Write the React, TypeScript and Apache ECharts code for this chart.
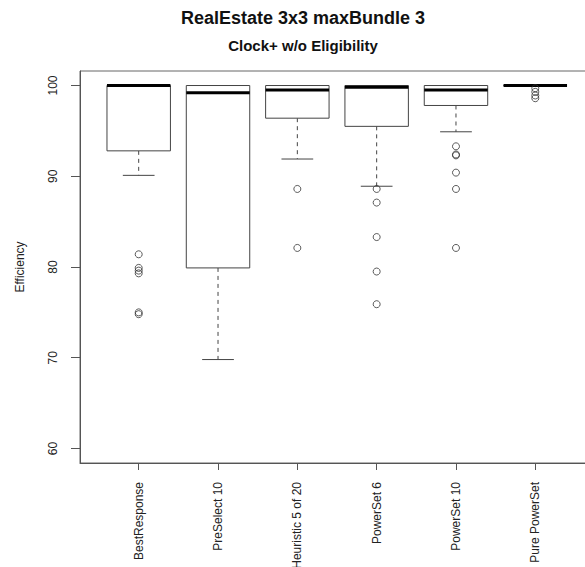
import React, { useEffect, useRef } from "react";
import * as echarts from "echarts";

const categories = [
  "BestResponse",
  "PreSelect 10",
  "Heuristic 5 of 20",
  "PowerSet 6",
  "PowerSet 10",
  "Pure PowerSet",
];
const lowerWhisker = [90.1, 69.8, 91.9, 88.9, 94.9, 100];
const lowerQuartile = [92.8, 79.9, 96.4, 95.5, 97.8, 100];
const medians = [100, 99.2, 99.5, 99.8, 99.5, 100];
const upperQuartile = [100, 100, 100, 100, 100, 100];
const upperWhisker = [100, 100, 100, 100, 100, 100];
const outliers: number[][] = [
  [81.4, 79.9, 79.6, 79.3, 75.0, 74.8],
  [],
  [88.6, 82.1],
  [88.6, 87.1, 83.3, 79.5, 75.9],
  [93.3, 92.4, 92.3, 90.4, 88.6, 82.1],
  [99.7, 99.3, 98.9, 98.6],
];
const yTicks = [60, 70, 80, 90, 100];
const xPositions = [1, 2, 3, 4, 5, 6];

const titleText = "RealEstate 3x3 maxBundle 3";
const subtitleText = "Clock+ w/o Eligibility";
const yName = "Efficiency";

export default function App() {
  const ref = useRef<HTMLDivElement>(null);
  useEffect(() => {
    if (!ref.current) return;
    const chart = echarts.init(ref.current, null, { renderer: "svg" });
    const boxData = categories.map((_, i) => [
      i + 1,
      lowerWhisker[i],
      lowerQuartile[i],
      medians[i],
      upperQuartile[i],
      upperWhisker[i],
    ]);
    const outlierData: number[][] = [];
    outliers.forEach((arr, i) => arr.forEach((v) => outlierData.push([i + 1, v])));
    const lineColor = "#555";
    const font = "Liberation Sans, Arial, sans-serif";

    chart.setOption({
      animation: false,
      backgroundColor: "#fff",
      graphic: [
        {
          type: "text",
          x: 303,
          y: 18,
          style: {
            text: titleText,
            font: "bold 18px Liberation Sans, Arial, sans-serif",
            fill: "#111",
            textAlign: "center",
            textVerticalAlign: "middle",
          },
        },
        {
          type: "text",
          x: 303,
          y: 45,
          style: {
            text: subtitleText,
            font: "bold 15px Liberation Sans, Arial, sans-serif",
            fill: "#111",
            textAlign: "center",
            textVerticalAlign: "middle",
          },
        },
      ],
      grid: {
        left: 80,
        right: 6,
        top: 71,
        bottom: 104,
        show: true,
        borderColor: "#666",
        borderWidth: 1,
        backgroundColor: "transparent",
        containLabel: false,
        outerBoundsMode: "none",
      },
      xAxis: {
        type: "value",
        min: 0.26,
        max: 6.74,
        axisLine: { show: true, lineStyle: { color: lineColor, width: 1 } },
        axisTick: {
          show: true,
          customValues: xPositions,
          length: 7,
          lineStyle: { color: lineColor },
        },
        axisLabel: {
          customValues: xPositions,
          rotate: 90,
          margin: 19,
          fontSize: 12,
          fontFamily: font,
          color: "#222",
          formatter: (v: number) => categories[Math.round(v) - 1] ?? "",
        },
        splitLine: { show: false },
      },
      yAxis: {
        type: "value",
        min: 58.4,
        max: 101.6,
        name: yName,
        nameLocation: "middle",
        nameRotate: 90,
        nameGap: 54,
        nameTextStyle: { fontSize: 12, fontFamily: font, color: "#222" },
        axisLine: { show: true, lineStyle: { color: lineColor, width: 1 } },
        axisTick: {
          show: true,
          customValues: yTicks,
          length: 9,
          lineStyle: { color: lineColor },
        },
        axisLabel: {
          customValues: yTicks,
          rotate: 90,
          margin: 21,
          fontSize: 12,
          fontFamily: font,
          color: "#222",
        },
        splitLine: { show: false },
      },
      series: [
        {
          type: "custom",
          data: boxData,
          encode: { x: 0, y: [1, 2, 3, 4, 5] },
          renderItem: (params: any, api: any) => {
            const x = api.value(0);
            const lw = api.value(1);
            const q1 = api.value(2);
            const med = api.value(3);
            const q3 = api.value(4);
            const uw = api.value(5);
            const halfBox = api.size([0.8, 0])[0] / 2;
            const halfCap = halfBox / 2;
            const pLw = api.coord([x, lw]);
            const pQ1 = api.coord([x, q1]);
            const pMed = api.coord([x, med]);
            const pQ3 = api.coord([x, q3]);
            const pUw = api.coord([x, uw]);
            const cx = pMed[0];
            const stroke = { stroke: "#444", lineWidth: 1, fill: null };
            return {
              type: "group",
              children: [
                {
                  type: "line",
                  shape: { x1: cx, y1: pQ1[1], x2: cx, y2: pLw[1] },
                  style: { ...stroke, lineDash: [4, 4] },
                },
                {
                  type: "line",
                  shape: { x1: cx, y1: pQ3[1], x2: cx, y2: pUw[1] },
                  style: { ...stroke, lineDash: [4, 4] },
                },
                {
                  type: "line",
                  shape: { x1: cx - halfCap, y1: pLw[1], x2: cx + halfCap, y2: pLw[1] },
                  style: stroke,
                },
                {
                  type: "line",
                  shape: { x1: cx - halfCap, y1: pUw[1], x2: cx + halfCap, y2: pUw[1] },
                  style: stroke,
                },
                {
                  type: "rect",
                  shape: {
                    x: cx - halfBox,
                    y: pQ3[1],
                    width: halfBox * 2,
                    height: pQ1[1] - pQ3[1],
                  },
                  style: { stroke: "#444", lineWidth: 1, fill: "#fff" },
                },
                {
                  type: "line",
                  shape: { x1: cx - halfBox, y1: pMed[1], x2: cx + halfBox, y2: pMed[1] },
                  style: { stroke: "#000", lineWidth: 3 },
                },
              ],
            };
          },
          z: 2,
        },
        {
          type: "scatter",
          data: outlierData,
          symbol: "circle",
          symbolSize: 7,
          itemStyle: { color: "transparent", borderColor: "#333", borderWidth: 1 },
          z: 3,
        },
      ],
    });
    return () => chart.dispose();
  }, []);
  return (
    <div
      style={{
        position: "absolute",
        left: 0,
        top: 0,
        width: 585,
        height: 567,
        overflow: "hidden",
      }}
    >
      <div ref={ref} style={{ width: 600, height: 567 }} />
    </div>
  );
}
